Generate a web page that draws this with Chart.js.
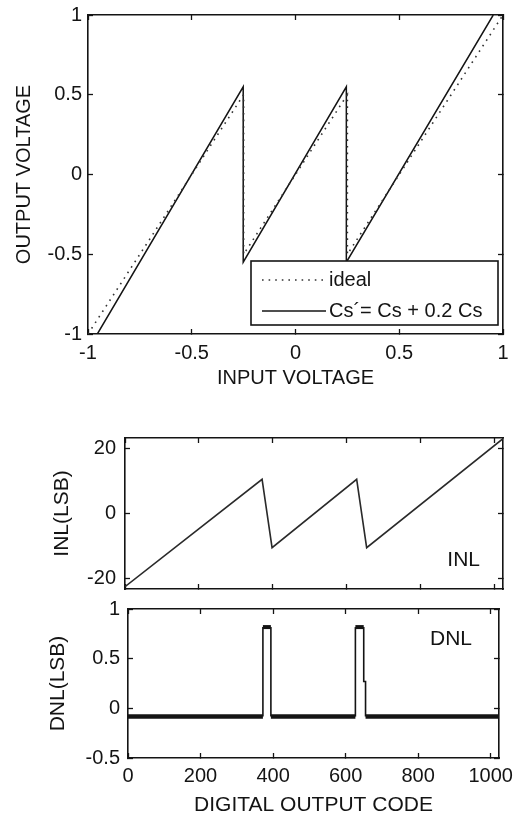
<!DOCTYPE html>
<html>
<head>
<meta charset="utf-8">
<script src="https://cdn.jsdelivr.net/npm/chart.js@4.4.0/dist/chart.umd.min.js"></script>
<style>
  html, body { margin: 0; padding: 0; background: #fff; }
  #wrap { position: relative; width: 517px; height: 819px; overflow: hidden; }
  canvas { position: absolute; left: 0; }
</style>
</head>
<body>
<div id="wrap">
  <canvas id="transfer" width="517" height="400" style="top:0"></canvas>
  <canvas id="inl" width="517" height="180" style="top:420px"></canvas>
  <canvas id="dnl" width="517" height="219" style="top:600px"></canvas>
</div>
<script>
// transfer curve (top)
const voltTicks = [-1, -0.5, 0, 0.5, 1];
const idealVin = [-1, -0.25, -0.25, 0.25, 0.25, 1];
const idealVout = [-1, 0.5, -0.5, 0.5, -0.5, 1];
const errVin = [-0.955, -0.252, -0.252, 0.245, 0.245, 0.953];
const errVout = [-1, 0.55, -0.55, 0.55, -0.55, 1];

// INL / DNL (bottom)
const codeTicks = [0, 200, 400, 600, 800, 1000];
const inlTicks = [-20, 0, 20];
const inlCode = [0, 371, 398, 627, 654, 1023];
const inlValue = [-22.5, 10.5, -10.5, 10.5, -10.5, 23];
const dnlTicks = [-0.5, 0, 0.5, 1];
const dnlCode = [0, 372, 372, 394, 394, 627, 627, 650, 650, 655, 655, 1023];
const dnlValue = [-0.083, -0.083, 0.818, 0.818, -0.083, -0.083, 0.818, 0.818, 0.27, 0.27, -0.083, -0.083];

const INK = '#141414';
const FONT = '"Liberation Sans", Arial, Helvetica, sans-serif';
Chart.defaults.font.family = FONT;
Chart.defaults.color = INK;
Chart.defaults.animation = false;

const toPoints = (xs, ys) => xs.map((x, i) => ({ x, y: ys[i] }));

function boxAxis({ position, min, max, ticks, size = 0, labels = false, pad = 0, title = null }) {
  return {
    type: 'linear',
    position,
    min,
    max,
    afterBuildTicks: scale => { scale.ticks = ticks.map(v => ({ value: v })); },
    afterFit: scale => {
      if (scale.isHorizontal()) scale.height = size;
      else scale.width = size;
      // plot box is fixed by layout padding, not by label overhang
      scale.paddingTop = scale.paddingBottom = scale.paddingLeft = scale.paddingRight = 0;
    },
    grid: { drawOnChartArea: false, drawTicks: true, tickLength: -5, tickWidth: 1.3, tickColor: INK },
    border: { display: true, color: INK, width: 1.6 },
    ticks: {
      display: labels,
      autoSkip: false,
      maxRotation: 0,
      padding: pad,
      color: INK,
      font: { size: 20 },
      callback: v => String(v),
    },
    title: title
      ? { display: true, text: title.text, color: INK, font: { size: title.size }, padding: title.padding }
      : { display: false },
  };
}

// legend drawn as a framed box in the lower right of the plot
const boxLegend = {
  id: 'boxLegend',
  afterDatasetsDraw(chart) {
    const { ctx, chartArea } = chart;
    const w = 247, h = 64;
    const x = chartArea.right - 5 - w;
    const y = chartArea.bottom - 9 - h;
    ctx.save();
    ctx.fillStyle = '#fff';
    ctx.fillRect(x, y, w, h);
    ctx.strokeStyle = INK;
    ctx.lineWidth = 1.6;
    ctx.strokeRect(x, y, w, h);
    chart.data.datasets.forEach((ds, i) => {
      const ly = y + 19 + i * 31;
      ctx.beginPath();
      ctx.setLineDash(ds.borderDash || []);
      ctx.lineWidth = ds.borderWidth;
      ctx.strokeStyle = ds.borderColor;
      ctx.moveTo(x + 11, ly);
      ctx.lineTo(x + 75, ly);
      ctx.stroke();
      ctx.setLineDash([]);
      ctx.fillStyle = INK;
      ctx.font = '20px ' + FONT;
      ctx.textBaseline = 'middle';
      ctx.textAlign = 'left';
      ctx.fillText(ds.label, x + 78, ly);
    });
    ctx.restore();
  }
};

// small "INL" / "DNL" tag inside the plot
const cornerTag = {
  id: 'cornerTag',
  afterDatasetsDraw(chart, args, opts) {
    if (!opts.text) return;
    const { ctx, chartArea } = chart;
    ctx.save();
    ctx.font = '21px ' + FONT;
    ctx.fillStyle = INK;
    ctx.textAlign = 'right';
    ctx.textBaseline = 'alphabetic';
    ctx.fillText(opts.text, chartArea.right - opts.dx, chartArea.top + opts.dy);
    ctx.restore();
  }
};

new Chart(document.getElementById('transfer'), {
  type: 'scatter',
  data: {
    datasets: [
      {
        label: 'ideal',
        data: toPoints(idealVin, idealVout),
        showLine: true,
        borderColor: '#333',
        borderWidth: 1.6,
        borderDash: [1.6, 5],
        pointRadius: 0,
      },
      {
        label: 'Cs\u00b4= Cs + 0.2 Cs',
        data: toPoints(errVin, errVout),
        showLine: true,
        borderColor: INK,
        borderWidth: 1.5,
        pointRadius: 0,
      },
    ],
  },
  options: {
    responsive: false,
    layout: { padding: { left: 0, right: 14, top: 15, bottom: 0 } },
    scales: {
      x: boxAxis({ position: 'bottom', min: -1, max: 1, ticks: voltTicks, size: 66, labels: true, pad: 12,
        title: { text: 'INPUT VOLTAGE', size: 20, padding: { top: 0, bottom: 10 } } }),
      y: boxAxis({ position: 'left', min: -1, max: 1, ticks: voltTicks, size: 88, labels: true, pad: 11,
        title: { text: 'OUTPUT VOLTAGE', size: 20, padding: { top: 12, bottom: 0 } } }),
      x2: boxAxis({ position: 'top', min: -1, max: 1, ticks: voltTicks }),
      y2: boxAxis({ position: 'right', min: -1, max: 1, ticks: voltTicks }),
    },
    plugins: { legend: { display: false }, tooltip: { enabled: false } },
  },
  plugins: [boxLegend],
});

new Chart(document.getElementById('inl'), {
  type: 'scatter',
  data: {
    datasets: [{
      label: 'INL',
      data: toPoints(inlCode, inlValue),
      showLine: true,
      borderColor: '#2a2a2a',
      borderWidth: 1.6,
      pointRadius: 0,
    }],
  },
  options: {
    responsive: false,
    layout: { padding: { left: 0, right: 14, top: 18, bottom: 11 } },
    scales: {
      x: boxAxis({ position: 'bottom', min: 0, max: 1023, ticks: codeTicks }),
      y: boxAxis({ position: 'left', min: -23.2, max: 23.2, ticks: inlTicks, size: 125, labels: true, pad: 14,
        title: { text: 'INL(LSB)', size: 21, padding: { top: 50, bottom: 0 } } }),
      x2: boxAxis({ position: 'top', min: 0, max: 1023, ticks: codeTicks }),
      y2: boxAxis({ position: 'right', min: -23.2, max: 23.2, ticks: inlTicks }),
    },
    plugins: {
      legend: { display: false },
      tooltip: { enabled: false },
      cornerTag: { text: 'INL', dx: 23, dy: 128 },
    },
  },
  plugins: [cornerTag],
});

new Chart(document.getElementById('dnl'), {
  type: 'scatter',
  data: {
    datasets: [{
      label: 'DNL',
      data: toPoints(dnlCode, dnlValue),
      showLine: true,
      borderColor: INK,
      borderWidth: 1.6,
      pointRadius: 0,
      segment: {
        borderWidth: c => (c.p0.parsed.y === c.p1.parsed.y && c.p1.parsed.x - c.p0.parsed.x > 10
          ? (c.p0.parsed.y > 0.5 ? 4 : 4.5) : 1.6),
      },
    }],
  },
  options: {
    responsive: false,
    layout: { padding: { left: 0, right: 18, top: 9, bottom: 0 } },
    scales: {
      x: boxAxis({ position: 'bottom', min: 0, max: 1023, ticks: codeTicks, size: 61, labels: true, pad: 11,
        title: { text: 'DIGITAL OUTPUT CODE', size: 21, padding: { top: 0, bottom: 1 } } }),
      y: boxAxis({ position: 'left', min: -0.5, max: 1, ticks: dnlTicks, size: 128, labels: true, pad: 13,
        title: { text: 'DNL(LSB)', size: 21, padding: { top: 46, bottom: 0 } } }),
      x2: boxAxis({ position: 'top', min: 0, max: 1023, ticks: codeTicks }),
      y2: boxAxis({ position: 'right', min: -0.5, max: 1, ticks: dnlTicks }),
    },
    plugins: {
      legend: { display: false },
      tooltip: { enabled: false },
      cornerTag: { text: 'DNL', dx: 27, dy: 36 },
    },
  },
  plugins: [cornerTag],
});
</script>
</body>
</html>
